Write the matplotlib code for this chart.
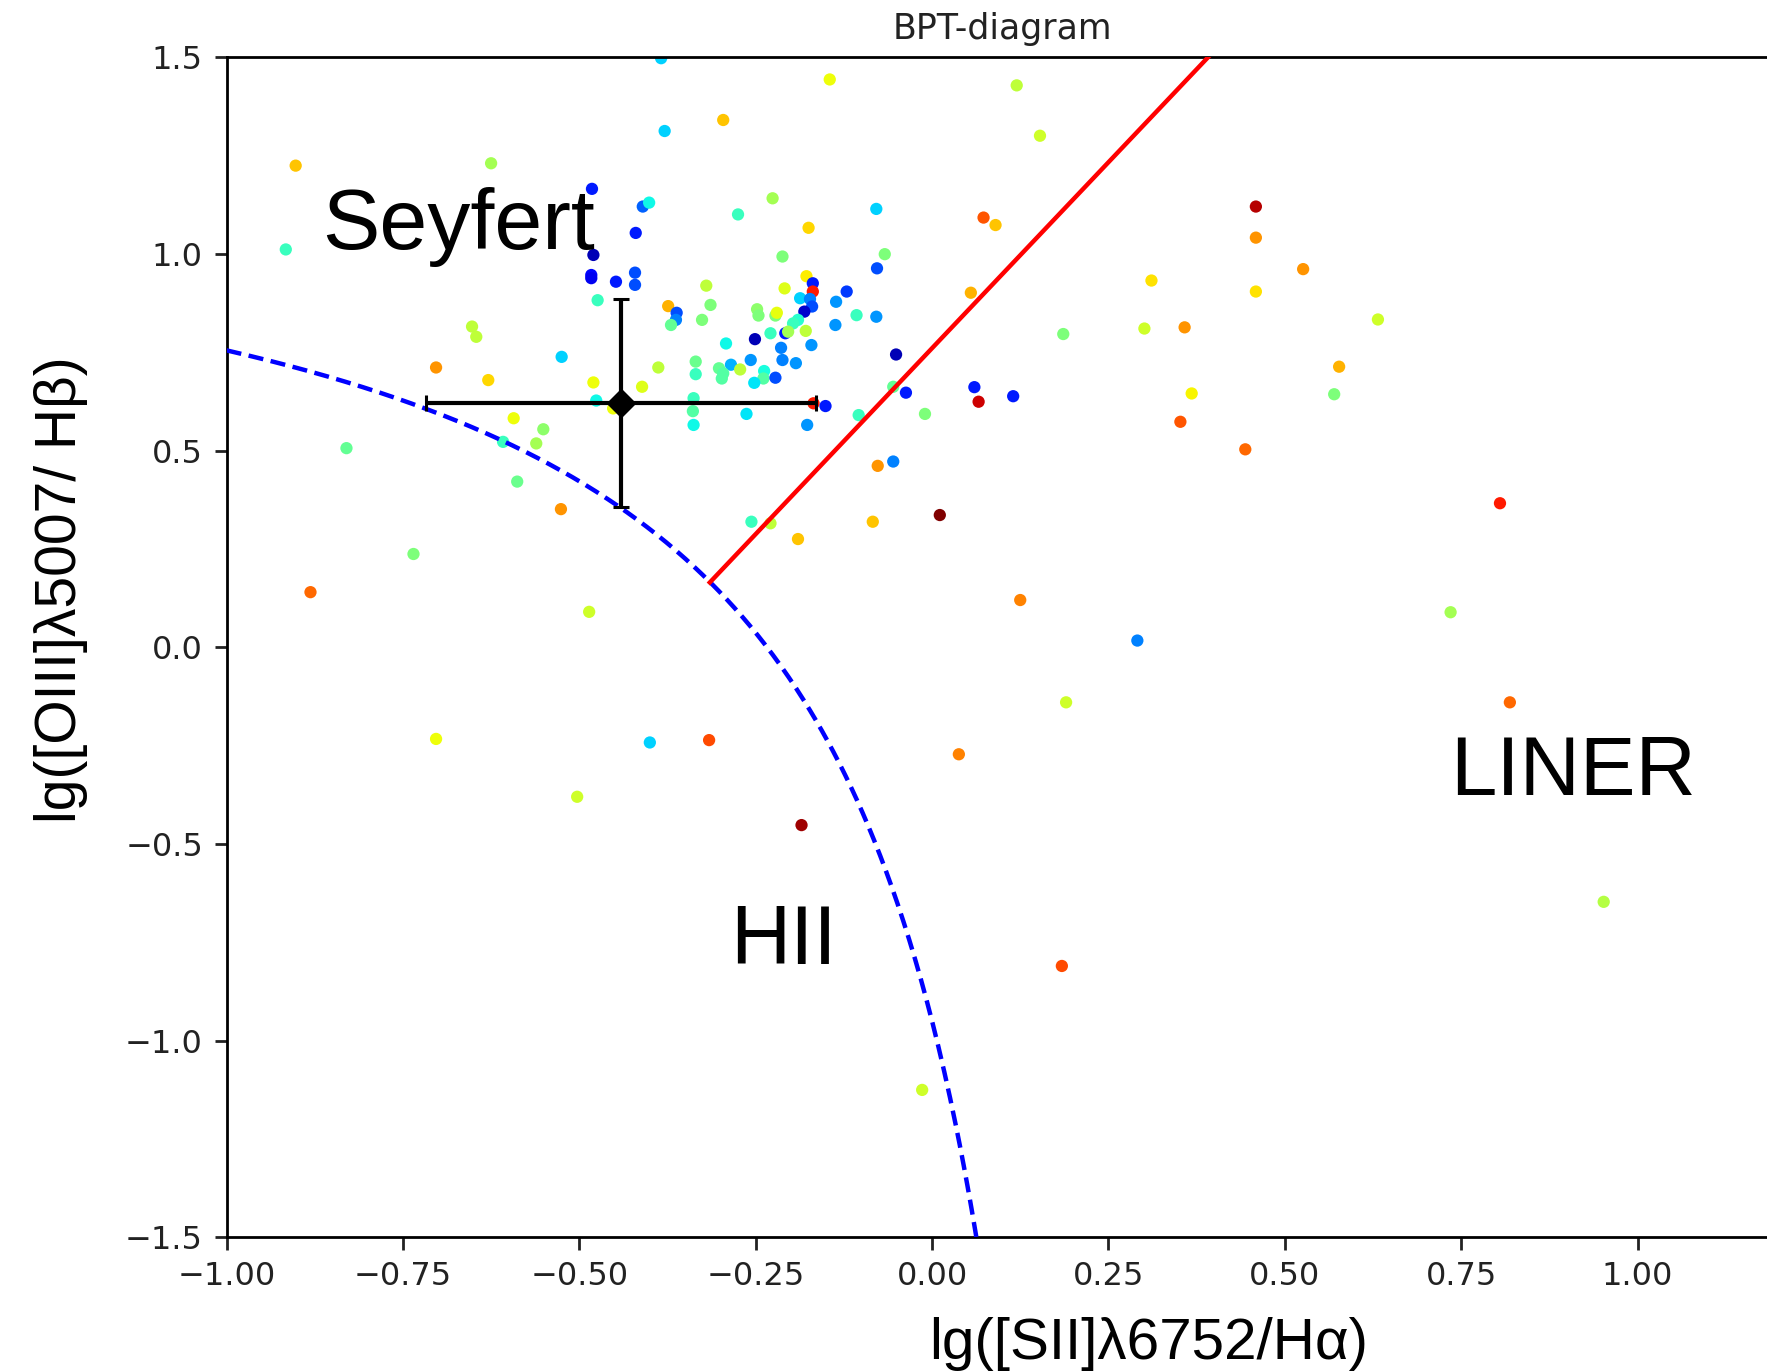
import numpy as np
import matplotlib
matplotlib.use("Agg")
import matplotlib.pyplot as plt

# [SII]/Halpha (x), [OIII]/Hbeta (y) and colour value (jet) for every galaxy
sii = [
    -0.384, -0.902, -0.296, -0.145, 0.120, -0.379, 0.153, -0.625, -0.916, -0.482,
    -0.410, -0.401, -0.420, -0.226, -0.275, -0.175, -0.079, 0.073, 0.090, -0.480,
    -0.483, -0.483, -0.448, -0.421, -0.421, -0.474,
    -0.212, -0.067, -0.078, -0.178, -0.169, -0.209, -0.320, -0.169, -0.121, -0.187,
    -0.173, -0.136, -0.170, -0.181, -0.314, -0.374, -0.362, -0.363, -0.370, -0.326,
    -0.248, -0.246, -0.222, -0.220, -0.190, -0.197, -0.107, -0.079, -0.137, -0.229,
    -0.208, -0.204, -0.179, -0.251, -0.292, -0.214, -0.171, -0.257, -0.212, -0.193,
    -0.285, -0.272, -0.302, -0.296, -0.298, -0.238, -0.239, -0.252, -0.222, -0.335,
    -0.335, -0.388, -0.411, -0.338, -0.339, -0.338, -0.263, -0.177, -0.168, -0.151,
    -0.051, -0.055, -0.037, -0.104,
    -0.525, -0.480, -0.476, -0.452, -0.629, -0.703, -0.652, -0.646, -0.593, -0.551,
    -0.561, -0.608, -0.830, -0.588, -0.526, -0.735, -0.881, -0.486, -0.703, -0.400,
    -0.316, -0.503, -0.185,
    -0.256, -0.229, -0.190, -0.084, -0.077, -0.055, -0.010, 0.060, 0.066, 0.115,
    0.011, 0.125, 0.055,
    0.186, 0.301, 0.358, 0.311, 0.459, 0.459, 0.526, 0.459, 0.632, 0.368,
    0.577, 0.570, 0.352, 0.444, 0.805, 0.735, 0.819, 0.952, 0.291, 0.190,
    0.038, 0.184, -0.014,
]
oiii = [
    1.497, 1.224, 1.340, 1.443, 1.428, 1.312, 1.300, 1.230, 1.011, 1.165,
    1.120, 1.130, 1.053, 1.141, 1.100, 1.066, 1.114, 1.092, 1.073, 0.997,
    0.946, 0.938, 0.929, 0.952, 0.921, 0.882,
    0.993, 0.999, 0.963, 0.943, 0.925, 0.912, 0.919, 0.904, 0.904, 0.887,
    0.885, 0.878, 0.866, 0.853, 0.870, 0.867, 0.850, 0.832, 0.819, 0.832,
    0.859, 0.843, 0.843, 0.850, 0.832, 0.823, 0.844, 0.840, 0.819, 0.798,
    0.798, 0.802, 0.804, 0.783, 0.772, 0.761, 0.768, 0.730, 0.730, 0.722,
    0.718, 0.706, 0.709, 0.696, 0.683, 0.702, 0.683, 0.672, 0.685, 0.726,
    0.694, 0.711, 0.662, 0.633, 0.600, 0.565, 0.593, 0.565, 0.620, 0.613,
    0.744, 0.662, 0.647, 0.590,
    0.738, 0.673, 0.627, 0.607, 0.679, 0.711, 0.815, 0.789, 0.582, 0.554,
    0.518, 0.522, 0.506, 0.421, 0.351, 0.237, 0.140, 0.090, -0.233, -0.242,
    -0.236, -0.380, -0.452,
    0.319, 0.315, 0.275, 0.319, 0.461, 0.472, 0.593, 0.661, 0.624, 0.638,
    0.336, 0.120, 0.901,
    0.796, 0.810, 0.813, 0.932, 1.120, 1.041, 0.961, 0.904, 0.833, 0.645,
    0.713, 0.643, 0.573, 0.503, 0.366, 0.089, -0.140, -0.647, 0.017, -0.140,
    -0.272, -0.810, -1.125,
]
cval = [
    0.33, 0.70, 0.70, 0.64, 0.58, 0.33, 0.60, 0.55, 0.42, 0.15,
    0.22, 0.37, 0.15, 0.55, 0.42, 0.68, 0.33, 0.82, 0.70, 0.05,
    0.13, 0.10, 0.15, 0.20, 0.20, 0.42,
    0.50, 0.50, 0.20, 0.66, 0.15, 0.62, 0.58, 0.88, 0.18, 0.33,
    0.25, 0.27, 0.20, 0.07, 0.50, 0.72, 0.20, 0.25, 0.47, 0.50,
    0.52, 0.50, 0.50, 0.63, 0.40, 0.42, 0.42, 0.27, 0.27, 0.42,
    0.15, 0.55, 0.58, 0.05, 0.37, 0.25, 0.27, 0.27, 0.25, 0.27,
    0.30, 0.58, 0.47, 0.45, 0.45, 0.38, 0.45, 0.35, 0.20, 0.48,
    0.42, 0.58, 0.62, 0.42, 0.45, 0.37, 0.35, 0.27, 0.88, 0.15,
    0.05, 0.47, 0.15, 0.42,
    0.33, 0.64, 0.37, 0.64, 0.68, 0.75, 0.58, 0.58, 0.64, 0.52,
    0.55, 0.42, 0.47, 0.48, 0.75, 0.50, 0.80, 0.60, 0.64, 0.33,
    0.83, 0.60, 0.97,
    0.42, 0.58, 0.70, 0.70, 0.75, 0.25, 0.50, 0.15, 0.93, 0.15,
    1.00, 0.77, 0.72,
    0.50, 0.60, 0.75, 0.67, 0.95, 0.75, 0.75, 0.67, 0.60, 0.65,
    0.72, 0.50, 0.82, 0.80, 0.88, 0.55, 0.80, 0.57, 0.25, 0.60,
    0.77, 0.83, 0.60,
]

# mean point with its error bars
mean_x, mean_y = -0.441, 0.621
err_x, err_y = 0.276, 0.265

# demarcation lines (Kewley 2001 / 2006, [SII] diagram)
k01_a, k01_b, k01_c = 0.72, 0.32, 1.30
k06_slope, k06_icpt = 1.89, 0.76


def minus_fmt(fmt):
    return matplotlib.ticker.FuncFormatter(
        lambda v, pos: (fmt % v).replace("-", "\u2212"))


fig = plt.figure(figsize=(17.67, 13.71), dpi=100)
ax = fig.add_axes([0.1282, 0.0974, 0.8784, 0.8610])

ax.scatter(sii, oiii, c=cval, cmap="jet", vmin=0, vmax=1, s=78,
           linewidths=0, zorder=2)

xk = np.linspace(-1.0, 0.1, 400)
ax.plot(xk, k01_a / (xk - k01_b) + k01_c, "b--", lw=3.2,
        dashes=(3.4, 1.7), zorder=3)

x0 = -0.315
xs = np.array([x0, 1.2])
ax.plot(xs, k06_slope * xs + k06_icpt, "r-", lw=3.2, zorder=3)

ax.errorbar([mean_x], [mean_y], xerr=[err_x], yerr=[err_y], fmt="D",
            color="black", ms=14, elinewidth=3, capsize=6, capthick=2.2,
            zorder=4)

ax.set_xlim(-1.0, 1.2)
ax.set_ylim(-1.5, 1.5)
ax.set_xticks(np.arange(-1.0, 1.01, 0.25))
ax.set_yticks(np.arange(-1.5, 1.51, 0.5))
ax.xaxis.set_major_formatter(minus_fmt("%.2f"))
ax.yaxis.set_major_formatter(minus_fmt("%.1f"))
ax.tick_params(labelsize=23, length=9, width=2, pad=8, colors="#222222")
for s in ax.spines.values():
    s.set_linewidth(2)

ax.set_title("BPT-diagram", fontsize=25, pad=13, color="#222222")

lab = dict(family=["Liberation Sans", "DejaVu Sans"], color="black")
ax.text(-0.864, 1.012, "Seyfert", fontsize=62, va="baseline", ha="left", **lab)
ax.text(0.735, -0.376, "LINER", fontsize=60, va="baseline", ha="left", **lab)
ax.text(-0.286, -0.806, "HII", fontsize=60, va="baseline", ha="left", **lab)

fig.text(0.650, 0.009, "lg([SII]λ6752/Hα)", fontsize=42, ha="center",
         va="baseline", **lab)
fig.text(0.0345, 0.570, "lg([OIII]λ5007/ Hβ)", fontsize=41, rotation=90,
         ha="center", va="center", **lab)

fig.savefig("out.png", dpi=100, facecolor="white")
